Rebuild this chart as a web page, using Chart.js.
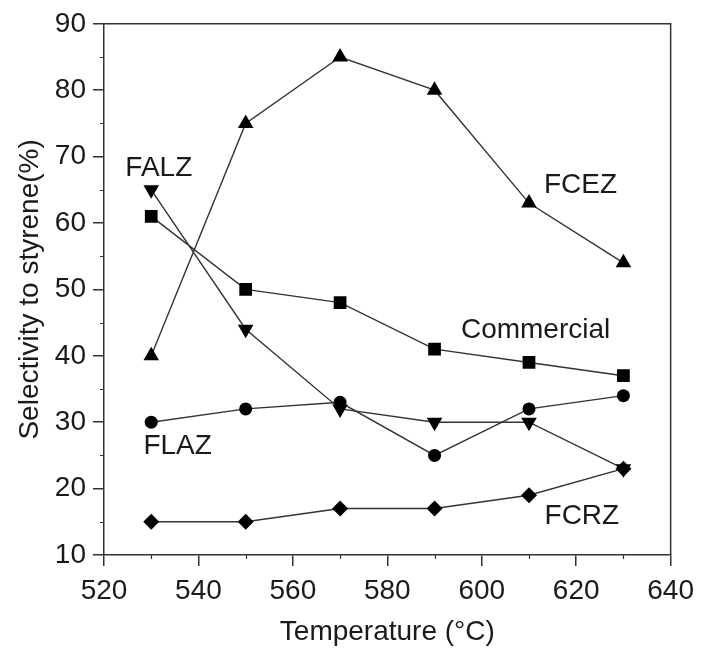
<!DOCTYPE html>
<html>
<head>
<meta charset="utf-8">
<script src="https://cdn.jsdelivr.net/npm/chart.js@4/dist/chart.umd.min.js"></script>
<style>
  html, body { margin: 0; padding: 0; background: #fff; }
  #wrap { width: 702px; height: 649px; }
</style>
</head>
<body>
<div id="wrap"><canvas id="c" width="702" height="649"></canvas></div>
<script>
// ---- data ----
const temperatures = [530, 550, 570, 590, 610, 630];
const fcez       = [40, 75, 85, 80, 63, 54];
const commercial = [61, 50, 48, 41, 39, 37];
const falz       = [65, 44, 32, 30, 30, 23];
const flaz       = [30, 32, 33, 25, 32, 34];
const fcrz       = [15, 15, 17, 17, 19, 23];
const seriesNames = ['FCEZ', 'Commercial', 'FALZ', 'FLAZ', 'FCRZ'];
const xRange = [520, 640];
const yRange = [10, 90];
const xMinorTicks = [530, 550, 570, 590, 610, 630];
const yMinorTicks = [15, 25, 35, 45, 55, 65, 75, 85];
const xTitle = 'Temperature (°C)';
const yTitle = 'Selectivity to styrene(%)';

// ---- label placement (data coords) ----
const labelPlacement = {
  'FALZ':       [531.6, 68.3],
  'FCEZ':       [620.9, 65.7],
  'Commercial': [611.4, 43.9],
  'FLAZ':       [535.6, 26.4],
  'FCRZ':       [621.2, 15.9]
};

const FONT = '"Liberation Sans", Arial, sans-serif';
const INK = '#1a1a1a';
const LINE = '#333333';

function pts(vals) { return temperatures.map((t, i) => ({ x: t, y: vals[i] })); }

function ds(name, vals, style, radius, rotation) {
  return {
    label: name,
    data: pts(vals),
    borderColor: LINE,
    borderWidth: 1.4,
    backgroundColor: '#000',
    pointBackgroundColor: '#000',
    pointBorderColor: '#000',
    pointBorderWidth: 0,
    pointStyle: style,
    pointRadius: radius,
    pointRotation: rotation || 0,
    tension: 0,
    fill: false
  };
}

const decor = {
  id: 'decor',
  afterDraw(chart) {
    const { ctx, chartArea: a, scales: { x, y } } = chart;
    ctx.save();
    ctx.strokeStyle = LINE;
    ctx.lineWidth = 1.5;
    // top and right frame
    ctx.beginPath();
    ctx.moveTo(a.left, a.top); ctx.lineTo(a.right, a.top); ctx.lineTo(a.right, a.bottom);
    ctx.stroke();
    // minor ticks
    ctx.lineWidth = 1.2;
    ctx.beginPath();
    yMinorTicks.forEach(v => {
      const py = Math.round(y.getPixelForValue(v)) + 0.5;
      ctx.moveTo(a.left - 4, py); ctx.lineTo(a.left, py);
    });
    xMinorTicks.forEach(v => {
      const px = Math.round(x.getPixelForValue(v)) + 0.5;
      ctx.moveTo(px, a.bottom); ctx.lineTo(px, a.bottom + 4);
    });
    ctx.stroke();
    // series labels
    ctx.fillStyle = INK;
    ctx.font = '28px ' + FONT;
    ctx.textAlign = 'center';
    ctx.textBaseline = 'middle';
    seriesNames.forEach(n => {
      const p = labelPlacement[n];
      ctx.fillText(n, x.getPixelForValue(p[0]), y.getPixelForValue(p[1]));
    });
    ctx.restore();
  }
};

new Chart(document.getElementById('c'), {
  type: 'line',
  data: {
    datasets: [
      ds('FCEZ', fcez, 'triangle', 9),
      ds('Commercial', commercial, 'rect', 9),
      ds('FALZ', falz, 'triangle', 9, 180),
      ds('FLAZ', flaz, 'circle', 6.5),
      ds('FCRZ', fcrz, 'rectRot', 8)
    ]
  },
  options: {
    responsive: false,
    animation: false,
    devicePixelRatio: 1,
    layout: { padding: { left: 0, right: 30, top: 22, bottom: 0 } },
    plugins: { legend: { display: false }, tooltip: { enabled: false } },
    scales: {
      x: {
        type: 'linear',
        min: xRange[0], max: xRange[1],
        ticks: { stepSize: 20, color: INK, font: { family: FONT, size: 28 }, padding: 8, maxRotation: 0 },
        grid: { display: true, drawOnChartArea: false, drawTicks: true, tickLength: 11, color: LINE, lineWidth: 1.5 },
        border: { display: true, color: LINE, width: 1.5 },
        title: { display: true, text: xTitle, color: INK, font: { family: FONT, size: 28 }, padding: { top: 0, bottom: 0 } },
        afterFit(s) { s.height = 94; }
      },
      y: {
        min: yRange[0], max: yRange[1],
        ticks: { stepSize: 10, color: INK, font: { family: FONT, size: 28 }, padding: 7 },
        grid: { display: true, drawOnChartArea: false, drawTicks: true, tickLength: 11, color: LINE, lineWidth: 1.5 },
        border: { display: true, color: LINE, width: 1.5 },
        title: { display: true, text: yTitle, color: INK, font: { family: FONT, size: 28 }, padding: { top: 13, bottom: 0 } },
        afterFit(s) { s.width = 104; }
      }
    }
  },
  plugins: [decor]
});
</script>
</body>
</html>
